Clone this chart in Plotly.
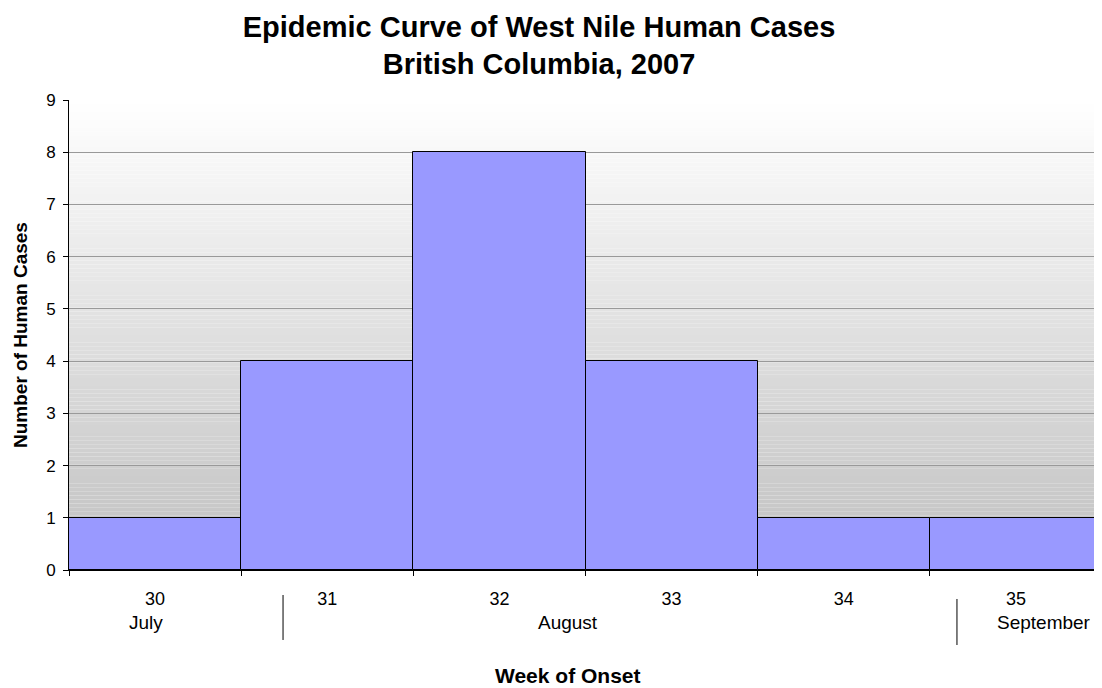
import plotly.graph_objects as go

# Data
weeks = ["30", "31", "32", "33", "34", "35"]
cases = [1, 4, 8, 4, 1, 1]
months = ["July", "August", "September"]
month_pos = [0.075, 0.483, 0.944]        # label centres, fraction of plot width
divider_pos = [0.2072, 0.8596]           # month separators, fraction of plot width

fig = go.Figure()

fig.add_trace(go.Bar(
    x=weeks,
    y=cases,
    marker=dict(color="#9999ff", line=dict(color="black", width=1)),
    hoverinfo="x+y",
))

# Vertical grey gradient behind the plot (white at top -> #c0c0c0 at bottom)
steps = 120
shapes = []
for i in range(steps):
    frac = (i + 0.5) / steps
    g = round(255 - (255 - 192) * (1 - frac))
    shapes.append(dict(
        type="rect", xref="x domain", yref="y domain",
        x0=0, x1=1, y0=i / steps, y1=(i + 1) / steps,
        fillcolor=f"rgb({g},{g},{g})", line=dict(width=0), layer="below",
    ))

# Month separators under the axis
for xp, (y0, y1) in zip(divider_pos, [(-0.0532, -0.1489), (-0.0617, -0.1596)]):
    shapes.append(dict(type="line", xref="paper", yref="paper",
                       x0=xp, x1=xp, y0=y0, y1=y1,
                       line=dict(color="black", width=1)))

annotations = []
for m, xp in zip(months, month_pos):
    annotations.append(dict(text=m, xref="paper", yref="paper", x=xp, y=0,
                            yshift=-52, showarrow=False, xanchor="center",
                            yanchor="middle",
                            font=dict(size=19, color="black")))

annotations.append(dict(text="<b>Week of Onset</b>", xref="paper", yref="paper",
                        x=0.483, y=0, yshift=-105, showarrow=False,
                        xanchor="center", yanchor="middle",
                        font=dict(size=21, color="black")))
annotations.append(dict(text="<b>Number of Human Cases</b>", xref="paper",
                        yref="paper", x=0, y=0.5, xshift=-49, textangle=-90,
                        showarrow=False, xanchor="center", yanchor="middle",
                        font=dict(size=19, color="black")))

# page body has an 8px margin, so the figure is sized/placed to compensate
fig.update_layout(
    width=1094, height=680,
    margin=dict(l=61, r=0, t=92, b=118),
    paper_bgcolor="white",
    plot_bgcolor="white",
    font=dict(family="Liberation Sans, Arial, sans-serif", size=16, color="black"),
    title=dict(
        text="<b>Epidemic Curve of West Nile Human Cases<br>British Columbia, 2007</b>",
        x=0.4854, xref="container", xanchor="center",
        y=0.958, yref="container", yanchor="top",
        font=dict(size=29, color="black"),
    ),
    bargap=0,
    showlegend=False,
    shapes=shapes,
    annotations=annotations,
)

fig.update_xaxes(
    type="category",
    showgrid=False,
    showline=True, linecolor="black", linewidth=1,
    ticks="outside", tickson="boundaries", ticklen=5, tickcolor="black",
    ticklabelstandoff=12,
    tickfont=dict(size=18),
)
fig.update_yaxes(
    range=[0, 9], dtick=1,
    showgrid=True, gridcolor="#999999", gridwidth=1,
    zeroline=False,
    showline=True, linecolor="black", linewidth=1,
    ticks="outside", ticklen=5, tickcolor="black",
    ticklabelstandoff=4,
    tickfont=dict(size=17),
)

fig.write_html("out.html")
